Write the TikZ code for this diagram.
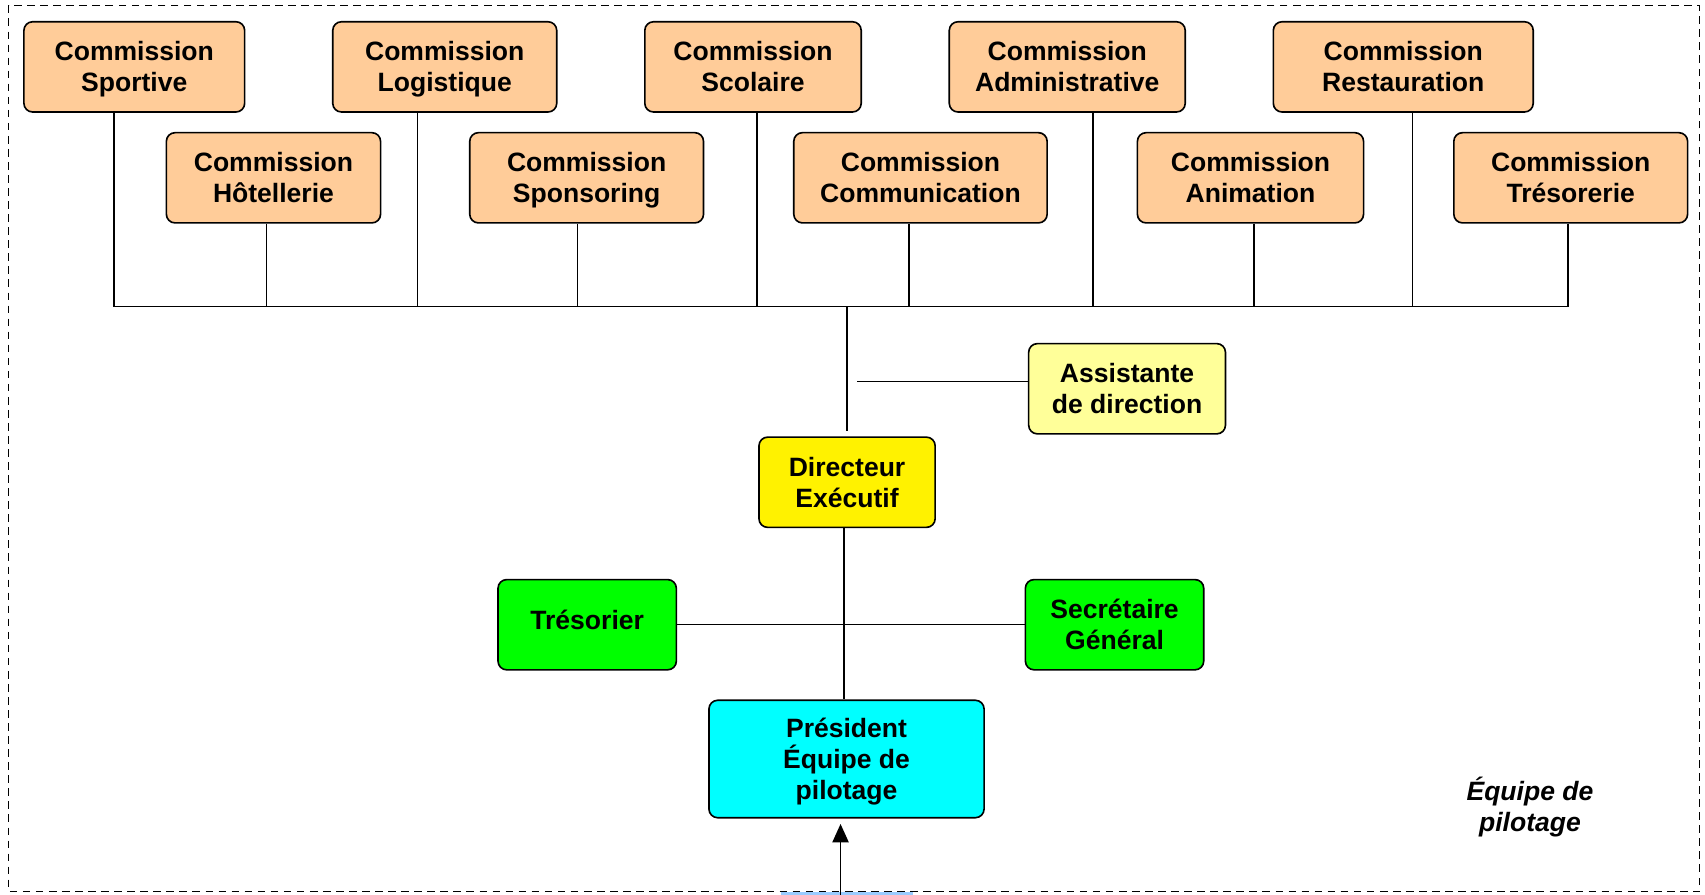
\documentclass[tikz,border=0pt]{standalone}
\usepackage{fontspec}
\setmainfont{Liberation Sans}
\usetikzlibrary{arrows.meta}

\definecolor{peach}{HTML}{FFCC99}
\definecolor{paleyellow}{HTML}{FFFF99}
\definecolor{brightgreen}{HTML}{00FF00}
\definecolor{aqua}{HTML}{00FFFF}
\definecolor{paleblue}{HTML}{99CCFF}

\tikzset{
  box/.style={draw, line width=1.5pt, rounded corners=8pt, inner sep=0pt, align=center,
    minimum height=83pt, text depth=0pt, font=\fontsize{24.4}{28.5}\selectfont\bfseries},
  comm/.style={box, fill=peach},
  link/.style={line width=1.4pt}
}

\begin{document}
\begin{tikzpicture}[x=1pt,y=-1pt]
\useasboundingbox (0,0) rectangle (1568,823);
\draw[line width=1.2pt, dash pattern=on 7pt off 5pt] (8,5) rectangle (1563,820);

% commissions, two rows
\node[comm, minimum width=203pt] (sportive) at (123.5,61.5) {Commission\\Sportive};
\node[comm, minimum width=206pt] (logistique) at (409,61.5) {Commission\\Logistique};
\node[comm, minimum width=199pt] (scolaire) at (692.5,61.5) {Commission\\Scolaire};
\node[comm, minimum width=217pt] (administrative) at (981.5,61.5) {Commission\\Administrative};
\node[comm, minimum width=239pt] (restauration) at (1290.5,61.5) {Commission\\Restauration};
\node[comm, minimum width=197pt] (hotellerie) at (251.5,163.5) {Commission\\Hôtellerie};
\node[comm, minimum width=215pt] (sponsoring) at (539.5,163.5) {Commission\\Sponsoring};
\node[comm, minimum width=233pt] (communication) at (846.5,163.5) {Commission\\Communication};
\node[comm, minimum width=208pt] (animation) at (1150,163.5) {Commission\\Animation};
\node[comm, minimum width=215pt] (tresorerie) at (1444.5,163.5) {Commission\\Trésorerie};

\coordinate (bus) at (0,282);
\foreach \n/\dx in {sportive/-18.5,logistique/-25,scolaire/3.5,administrative/23.5,restauration/8.5,
  hotellerie/-6.5,sponsoring/-8.5,communication/-10.5,animation/3,tresorerie/-2.5}
  \draw[link] ([xshift=\dx]\n.south) -- ([xshift=\dx]\n.south |- bus);
\draw[link] ([xshift=-18.5]sportive.south |- bus) -- ([xshift=-2.5]tresorerie.south |- bus);

% direction
\node[box, fill=yellow, minimum width=162pt] (directeur) at (779,443.5) {Directeur\\Exécutif};
\node[box, fill=paleyellow, minimum width=181pt] (assistante) at (1036.5,357.5) {Assistante\\de direction};
\node[box, fill=brightgreen, minimum width=164pt, text depth=9pt] (tresorier) at (540,574.5) {Trésorier};
\node[box, fill=brightgreen, minimum width=164pt] (secretaire) at (1025,574.5) {Secrétaire\\Général};
\node[box, fill=aqua, minimum width=253pt, minimum height=108pt] (president) at (778.5,698) {Président\\Équipe de\\pilotage};
\node[font=\fontsize{24.4}{28.5}\selectfont\bfseries\itshape, align=center] (legende) at (1407,742) {Équipe de\\pilotage};

\draw[link] (bus -| directeur.north) -- ([yshift=5pt]directeur.north);
\draw[link] ([yshift=6.5pt]assistante.west) -- ([xshift=9pt,yshift=6.5pt]assistante.west -| directeur.north);
\draw[link] ([xshift=-3pt]directeur.south) -- ([xshift=-3pt]directeur.south |- president.north);
\draw[link] (tresorier.east) -- (secretaire.west);

\coordinate (entree) at (773,823);
\fill[paleblue] (718,820.5) rectangle (840,823);
\draw[link, -{Triangle[length=17pt,width=15pt]}] (entree) -- ([xshift=-5.5pt,yshift=-5pt]president.south);
\end{tikzpicture}
\end{document}
